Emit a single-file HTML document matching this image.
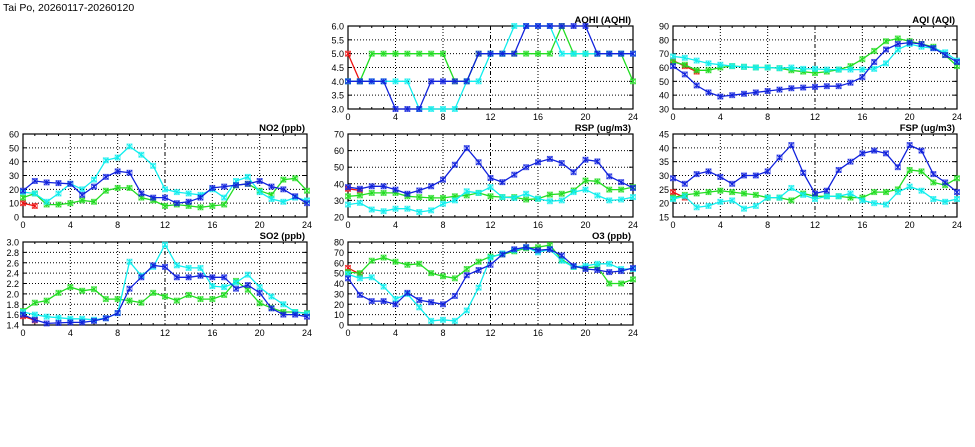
<!DOCTYPE html>
<html><head><meta charset="utf-8">
<style>
html,body{margin:0;padding:0;background:#fff;}
svg{display:block;font-family:"Liberation Sans",sans-serif;}
</style></head>
<body>
<svg id="chart" width="975" height="447" viewBox="0 0 975 447" xmlns="http://www.w3.org/2000/svg">
<text x="3" y="11" font-size="10.5" fill="#000">Tai Po, 20260117-20260120</text>
</svg>
<script>
const hours = [0,1,2,3,4,5,6,7,8,9,10,11,12,13,14,15,16,17,18,19,20,21,22,23,24];
const xTickLabels = ["0","4","8","12","16","20","24"];
const seriesNames = ["red","green","cyan","blue"];

const aqhiRed = [5,4];
const aqhiGreen = [4,4,5,5,5,5,5,5,5,4,4,5,5,5,5,5,5,5,6,5,5,5,5,5,4];
const aqhiCyan = [4,4,4,4,4,4,3,3,3,3,4,4,5,5,6,6,6,6,5,5,5,5,5,5,5];
const aqhiBlue = [4,4,4,4,3,3,3,4,4,4,4,5,5,5,5,6,6,6,6,6,6,5,5,5,5];
const aqhiTicks = ["3.0","3.5","4.0","4.5","5.0","5.5","6.0"];

const aqiRed = [65,61,57];
const aqiGreen = [64,62,58,58,60,61,60.5,60,60,59.5,58,57,56,57,58.5,61,66,72,79,81,79,77,75,69,61];
const aqiCyan = [68,67,65,63,62,61,60.5,60,60,59.5,60,59,59,58.5,58.5,58.5,58.5,59,63,73,77,75,74,71,65];
const aqiBlue = [61,55,47,42,39,40,41,42,43,44,45,45.5,46,46.5,46.5,49,53,64,73,77,78,77,74,69,64];
const aqiTicks = ["30","40","50","60","70","80","90"];

const no2Red = [10,8];
const no2Green = [14,17,9,9,10,12,11,19,21,21,14,12,8,9,8,7,8,9,23,24,19,16,27,28,19];
const no2Cyan = [18,17,11,17,24,20,27,41,43,51,45,37,20,18,17,16,20,14,26,29,18,13,11,14,12];
const no2Blue = [19,26,25,24.5,24,16,22,29,33,32,17,14,14,10,11,14,21,22,23,24,26,22,20,15,10];
const no2Ticks = ["0","10","20","30","40","50","60"];

const rspRed = [37,36];
const rspGreen = [32.5,33,34.5,34.5,34.5,32.5,32,31.5,31.5,32.5,33,34.5,32.5,32,32,30.5,31,33.5,34,36,42,41.5,36.5,36.5,38];
const rspCyan = [27.5,28.5,24.5,23.5,25,25,23,24,28,30,35.5,34.5,38,32,31.5,34,31,29.5,30,35,36.5,33,30,30.5,32];
const rspBlue = [38,37,38.5,38.5,36.5,34,36,38.5,42.5,51.5,61.5,53,43.5,41,45.5,50,53,55,52.5,47,54.5,53.5,44.5,41,37.5];
const rspTicks = ["20","30","40","50","60","70"];

const fspRed = [24,22];
const fspGreen = [22,23,23.5,24,24.5,24,23.5,23,22,22,21,23.5,22.5,22.5,22.5,22,22,24,24,25,32,31.5,27.5,26.5,29];
const fspCyan = [21.5,22.5,18.5,19,20.5,21,18,19,22,22,25.5,23,21.5,22.5,22.5,23.5,21,20,19.5,24,26,24.5,21.5,20.5,21.5];
const fspBlue = [29,27,30.5,31.5,29.5,27,30,30,31.5,36.5,41,31,23.5,24.5,32,35,38,39,38,33,41,39,30.5,27.5,24];
const fspTicks = ["15","20","25","30","35","40","45"];

const so2Red = [1.57,1.49];
const so2Green = [1.67,1.83,1.87,2.02,2.13,2.06,2.09,1.9,1.9,1.87,1.83,2.02,1.95,1.87,1.98,1.9,1.9,1.98,2.25,2.08,1.82,1.73,1.65,1.65,1.63];
const so2Cyan = [1.65,1.6,1.56,1.54,1.52,1.52,1.5,1.53,1.63,2.62,2.35,2.52,2.95,2.55,2.5,2.5,2.15,2.13,2.22,2.37,2.13,1.95,1.8,1.65,1.62];
const so2Blue = [1.6,1.5,1.43,1.44,1.45,1.45,1.48,1.53,1.63,2.1,2.32,2.55,2.52,2.32,2.32,2.35,2.32,2.32,2.1,2.17,2.02,1.72,1.6,1.6,1.56];
const so2Ticks = ["1.4","1.6","1.8","2.0","2.2","2.4","2.6","2.8","3.0"];

const o3Red = [55,49];
const o3Green = [51,50,62,65,61,58,59,50,47,45,54,61,66,68,71,74,75,77,63,56,55,56,40,40,44];
const o3Cyan = [49,45,46,37,25,30,17,4,5,4,14,36,65,69,72,75,70,73,62,56,57,59,59,54,54];
const o3Blue = [45,29,23,23,20,31,24,22,20,28,48,53,58,68,73,75,72,73,67,57,54,53,51,52,55];
const o3Ticks = ["0","10","20","30","40","50","60","70","80"];

const colors = {red:"#ee1111",green:"#22dd22",cyan:"#11eeee",blue:"#1122dd"};
const svg = document.getElementById('chart');
const NS = "http://www.w3.org/2000/svg";
function mk(tag, attrs, parent){
  const e = document.createElementNS(NS, tag);
  for (const k in attrs) e.setAttribute(k, attrs[k]);
  (parent||svg).appendChild(e);
  return e;
}

const panels = [
  {key:"aqhi", title:"AQHI (AQHI)", x0:348, x1:633, y0:26, y1:109, ticks:aqhiTicks, data:[aqhiRed,aqhiGreen,aqhiCyan,aqhiBlue]},
  {key:"aqi", title:"AQI (AQI)", x0:673, x1:957, y0:26, y1:109, ticks:aqiTicks, data:[aqiRed,aqiGreen,aqiCyan,aqiBlue]},
  {key:"no2", title:"NO2 (ppb)", x0:23, x1:307, y0:134, y1:217, ticks:no2Ticks, data:[no2Red,no2Green,no2Cyan,no2Blue]},
  {key:"rsp", title:"RSP (ug/m3)", x0:348, x1:633, y0:134, y1:217, ticks:rspTicks, data:[rspRed,rspGreen,rspCyan,rspBlue]},
  {key:"fsp", title:"FSP (ug/m3)", x0:673, x1:957, y0:134, y1:217, ticks:fspTicks, data:[fspRed,fspGreen,fspCyan,fspBlue]},
  {key:"so2", title:"SO2 (ppb)", x0:23, x1:307, y0:242, y1:325, ticks:so2Ticks, data:[so2Red,so2Green,so2Cyan,so2Blue]},
  {key:"o3", title:"O3 (ppb)", x0:348, x1:633, y0:242, y1:325, ticks:o3Ticks, data:[o3Red,o3Green,o3Cyan,o3Blue]}
];

panels.forEach(p => {
  const g = mk('g', {});
  
  
  const ymin = parseFloat(p.ticks[0]), ymax = parseFloat(p.ticks[p.ticks.length-1]);
  const xs = h => p.x0 + (p.x1 - p.x0) * h / 24;
  const ys = v => p.y1 - (p.y1 - p.y0) * (v - ymin) / (ymax - ymin);
  // grid
  p.ticks.forEach((t, i) => {
    const y = ys(parseFloat(t));
    if (i > 0 && i < p.ticks.length - 1) {
      const l = mk('line', {x1:p.x0, x2:p.x1, y1:y, y2:y, stroke:"#000", "stroke-width":1, "stroke-dasharray":"1,2"}, g);
      
      
    }
    mk('line', {x1:p.x0, x2:p.x0+4, y1:y, y2:y, stroke:"#000"}, g);
    mk('line', {x1:p.x1-4, x2:p.x1, y1:y, y2:y, stroke:"#000"}, g);
    const tx = mk('text', {x:p.x0-4, y:y+3.5, "font-size":"9", "text-anchor":"end", fill:"#000"}, g);
    tx.textContent = t;
    
    
  });
  hours.forEach(h => {
    const x = xs(h);
    mk('line', {x1:x, x2:x, y1:p.y1, y2:p.y1-2, stroke:"#000"}, g);
    mk('line', {x1:x, x2:x, y1:p.y0, y2:p.y0+2, stroke:"#000"}, g);
  });
  xTickLabels.forEach((t, i) => {
    const x = xs(parseFloat(t));
    if (i > 0 && i < xTickLabels.length - 1) {
      const l = mk('line', {x1:x, x2:x, y1:p.y0, y2:p.y1, stroke:"#000", "stroke-width":1, "stroke-dasharray": t === "12" ? "4,2,1,2" : "1,2"}, g);
      
      
    }
    const tx = mk('text', {x:x, y:p.y1+11, "font-size":"9", "text-anchor":"middle", fill:"#000"}, g);
    tx.textContent = t;
    
    
  });
  const frame = mk('rect', {x:p.x0, y:p.y0, width:p.x1-p.x0, height:p.y1-p.y0, fill:"none", stroke:"#000", "stroke-width":1.2}, g);
  
  
  const title = mk('text', {x:p.x1-2, y:p.y0-3, "font-size":"9.5", "font-weight":"bold", "text-anchor":"end", fill:"#000"}, g);
  title.textContent = p.title;
  
  
  // series
  p.data.forEach((vals, si) => {
    const c = colors[seriesNames[si]];
    const sg = mk('g', {}, g);
    
    
    const pts = vals.map((v, h) => xs(h).toFixed(1) + ',' + ys(v).toFixed(1)).join(' ');
    const pl = mk('polyline', {points:pts, fill:"none", stroke:c, "stroke-width":1.3}, sg);
    
    
    vals.forEach((v, h) => {
      const x = xs(h), y = ys(v), r = 2.5;
      const m = mk('g', {stroke:c, "stroke-width":1}, sg);
      
      
      mk('rect', {x:x-r, y:y-r, width:2*r, height:2*r, fill:"none", "stroke-opacity":0.6}, m);
      mk('line', {x1:x-r, y1:y-r, x2:x+r, y2:y+r}, m);
      mk('line', {x1:x-r, y1:y+r, x2:x+r, y2:y-r}, m);
      mk('line', {x1:x, y1:y-r, x2:x, y2:y+r}, m);
    });
  });
});
</script>
</body></html>
